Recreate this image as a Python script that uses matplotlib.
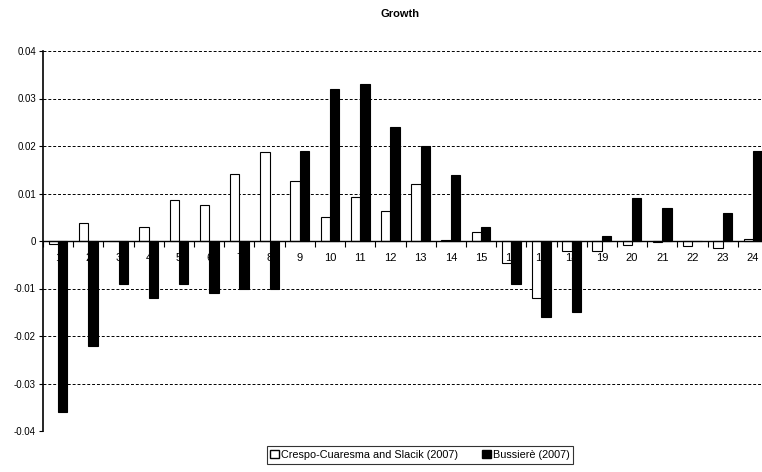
import numpy as np
import matplotlib
matplotlib.use("Agg")
import matplotlib.pyplot as plt
from matplotlib.patches import Patch

plt.rcParams['font.family'] = ['Liberation Sans', 'DejaVu Sans']

categories = [str(i) for i in range(1, 25)]
crespo = [-0.0006, 0.0037, 0.0, 0.003, 0.0086, 0.0075, 0.0142, 0.0188,
          0.0127, 0.005, 0.0092, 0.0063, 0.0119, 0.0002, 0.002, -0.0046,
          -0.012, -0.0022, -0.0022, -0.0009, -0.0003, -0.001, -0.0014, 0.0004]
bussiere = [-0.036, -0.022, -0.009, -0.012, -0.009, -0.011, -0.010, -0.010,
            0.019, 0.032, 0.033, 0.024, 0.020, 0.014, 0.003, -0.009,
            -0.016, -0.015, 0.001, 0.009, 0.007, 0.0, 0.006, 0.019]
yticks = [-0.04, -0.03, -0.02, -0.01, 0, 0.01, 0.02, 0.03, 0.04]

fig = plt.figure(figsize=(7.62, 4.72), dpi=100)
ax = fig.add_axes([43 / 762, 41 / 472, 725 / 762, 380 / 472])

x = np.arange(len(categories))
w = 0.31
ax.bar(x - w / 2, crespo, w, color='white', edgecolor='black', linewidth=0.8, zorder=1)
ax.bar(x + w / 2, bussiere, w, color='black', edgecolor='black', linewidth=0.8, zorder=2)

# category labels sit just under the zero line, above white bars, behind black bars
for i, c in enumerate(categories):
    ax.text(i, -0.0035, c, ha='center', va='center', fontsize=8, zorder=1.5)

ax.set_xlim(-0.5, len(categories) - 0.5)
ax.set_ylim(-0.04, 0.04)
ax.set_yticks(yticks)
ax.set_yticklabels([f"{v:g}" for v in yticks])
ax.tick_params(axis='y', labelsize=7, length=3, width=0.8, direction='out', pad=2)

ax.set_xticks(np.arange(len(categories) + 1) - 0.5)
ax.tick_params(axis='x', labelbottom=False, direction='out', length=4, width=0.8)
ax.spines['bottom'].set_position(('data', 0))
ax.spines['top'].set_visible(False)
ax.spines['right'].set_visible(False)
ax.spines['left'].set_linewidth(1.2)
ax.spines['bottom'].set_linewidth(1.0)

ax.set_axisbelow(True)
ax.yaxis.grid(True, color='black', linestyle=(0, (3, 2)), linewidth=0.7)

fig.text(400 / 762, 1 - 14 / 472, 'Growth', ha='center', va='center',
         fontsize=8, fontweight='bold')

handles = [Patch(facecolor='white', edgecolor='black', label='Crespo-Cuaresma and Slacik (2007)'),
           Patch(facecolor='black', edgecolor='black', label='Bussierè (2007)')]
leg = fig.legend(handles=handles, loc='center', bbox_to_anchor=(420 / 762, 1 - 455 / 472),
                 ncol=2, fontsize=7.8, frameon=True, fancybox=False, handlelength=0.8,
                 handleheight=0.8, handletextpad=0.2, columnspacing=2.2,
                 borderpad=0.35)
leg.get_frame().set_edgecolor('black')
leg.get_frame().set_linewidth(0.8)

fig.savefig('out.png', dpi=100)
